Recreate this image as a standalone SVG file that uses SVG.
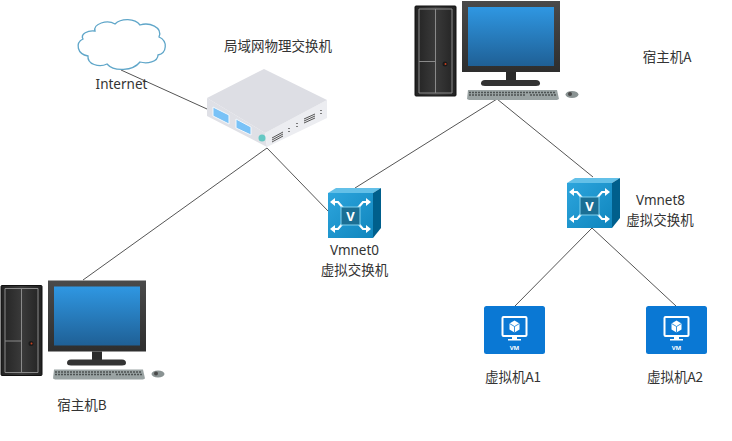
<svg xmlns="http://www.w3.org/2000/svg" width="732" height="441" viewBox="0 0 732 441">
<style>
text{font-family:"Noto Sans","Noto Sans CJK SC",sans-serif;font-size:13.500px;fill:#333;text-anchor:middle}
.cn{font-family:"Noto Sans CJK SC","Noto Sans",sans-serif}
.line{stroke:#555;stroke-width:1;fill:none}
.arr{fill:none;stroke:#fff;stroke-width:2.200}
.hd{fill:#fff}
.vmt{font-size:6px;fill:#fff;font-weight:700}
</style>
<defs>
<linearGradient id="scr" x1="0" y1="0" x2="0" y2="1"><stop offset="0" stop-color="#2f97e2"/><stop offset="1" stop-color="#1f6096"/></linearGradient>
<linearGradient id="mon" x1="0" y1="0" x2="0" y2="1"><stop offset="0" stop-color="#4a4a4a"/><stop offset="1" stop-color="#2e2e2e"/></linearGradient>
<linearGradient id="twr" x1="0" y1="0" x2="1" y2="0"><stop offset="0" stop-color="#222"/><stop offset="0.5" stop-color="#3a3a3a"/><stop offset="1" stop-color="#222"/></linearGradient>
<linearGradient id="sw" x1="0" y1="0" x2="1" y2="1"><stop offset="0" stop-color="#2da5dd"/><stop offset="1" stop-color="#0f85bd"/></linearGradient>
<g id="pc">
<rect x="415" y="6" width="41" height="90" rx="1" fill="url(#twr)" stroke="#111"/>
<path d="M419 9H452V93H419ZM435.500 9V93M419 61.500H435.500" fill="none" stroke="#8a8a8a" stroke-width="1"/>
<circle cx="445" cy="64" r="2.500" fill="#1a1a1a"/><circle cx="445.500" cy="64" r="1" fill="#c8401e"/>
<rect x="462" y="1" width="98" height="71" fill="url(#mon)"/>
<rect x="468" y="7" width="86" height="59" fill="url(#scr)"/>
<rect x="506" y="72" width="10" height="9" fill="#2b2b2b"/>
<path d="M485 80H536Q540 80 540 83.500Q540 86 536 86H485Q481 86 481 83.500Q481 80 485 80Z" fill="#333"/>
<path d="M468 90H557L559 99L557 100H469L467 99Z" fill="#9aa3a3"/>
<path d="M469 92.500H556M469 95H526M530 95H556" stroke="#4d5353" stroke-width="1.300" stroke-dasharray="2 1" fill="none"/>
<ellipse cx="572" cy="94.500" rx="6.500" ry="3.500" fill="#8a9393"/><ellipse cx="570" cy="94" rx="2" ry="2" fill="#4a4a4a"/>
</g>
<g id="vsw">
<path d="M0 5L8 0H53L45 5Z" fill="#63c0e8"/>
<path d="M45 5L53 0V40L45 50Z" fill="#005f8c"/>
<rect x="0" y="5" width="45" height="45" fill="url(#sw)"/>
<path class="arr" d="M16 21L10 14H6M29 21L35 14H39M16 34L10 41H6M29 34L35 41H39"/>
<path class="hd" d="M2 14L7 10V18ZM43 14L38 10V18ZM2 41L7 37V45ZM43 41L38 37V45Z"/>
<rect x="13" y="19" width="19" height="18" fill="#1b6f94" stroke="#7fd0ee" stroke-width="1"/>
<text x="22.500" y="33" style="font-size:13px;font-weight:700;fill:#fff">V</text>
</g>
<g id="vm">
<rect x="0" y="0" width="61" height="48" rx="2.500" fill="#0a78d4"/>
<rect x="18.500" y="11" width="24" height="19" rx="1" fill="none" stroke="#fff" stroke-width="2"/>
<path d="M30.500 14.500L35.500 17.500V23.500L30.500 26.500L25.500 23.500V17.500Z" fill="#fff"/>
<path d="M25.500 17.500L30.500 20.500L35.500 17.500M30.500 20.500V26.500" stroke="#0a78d4" stroke-width="0.800" fill="none"/>
<path d="M28 30H33V33H37V34.500H24V33H28Z" fill="#fff"/>
<text class="vmt" x="30.500" y="44">VM</text>
</g>
</defs>

<g id="connectors">
<path class="line" d="M121 70L207 109"/>
<path class="line" d="M83 280L267 148L329 212"/>
<path class="line" d="M355 188L497 99L593 177"/>
<path class="line" d="M515 306L592 228L676 306"/>
</g>

<g id="internet">
<path d="M95 31C93 24 107 19 115 24C121 18 135 18 140 25C149 22 163 27 159 37C168 41 167 53 158 55C158 62 147 64 140 62C133 71 114 72 107 64C99 68 87 64 88 56C77 54 75 43 83 39C80 34 88 30 95 31Z" fill="#fff" stroke="#5fa6c9" stroke-width="1.300"/>
<text x="121.500" y="89">Internet</text>
</g>

<g id="lan-switch">
<path d="M207 98L265 133L267 147L207 116Z" fill="#dfe0e6"/>
<path d="M265 133L327 100V118L267 147Z" fill="#ecedf1"/>
<path d="M264 69L327 100L265 133L207 98Z" fill="#dddee4"/>
<path d="M213 107L229 115V124L213 116Z" fill="#79c2f7" stroke="#f4f8fc"/>
<path d="M236 119L251 127V135L236 128Z" fill="#79c2f7" stroke="#f4f8fc"/>
<circle cx="262" cy="138" r="3.500" fill="#65c8c4"/>
<path d="M272 138L283 132M272 140L283 134M272 142L283 136M304 119L315 114M304 121L315 116M304 123L315 118" stroke="#555" stroke-width="1" fill="none"/>
<path d="M289 128v1M289 131v1M297 123v1M297 126v1M321 110v1M321 113v1" stroke="#555" stroke-width="1.500" fill="none"/>
<text class="cn" x="278" y="51">局域网物理交换机</text>
</g>

<g id="host-a">
<use href="#pc"/>
<text class="cn" x="667" y="62">宿主机A</text>
</g>

<g id="host-b">
<use href="#pc" transform="translate(-414 279.500)"/>
<text class="cn" x="82" y="410">宿主机B</text>
</g>

<g id="vmnet0">
<use href="#vsw" transform="translate(328 188)"/>
<text x="354.500" y="255">Vmnet0</text>
<text class="cn" x="354.500" y="275">虚拟交换机</text>
</g>

<g id="vmnet8">
<use href="#vsw" transform="translate(567 178)"/>
<text x="660.500" y="205">Vmnet8</text>
<text class="cn" x="660" y="225">虚拟交换机</text>
</g>

<g id="vm-a1">
<use href="#vm" transform="translate(484 306)"/>
<text class="cn" x="513" y="382">虚拟机A1</text>
</g>

<g id="vm-a2">
<use href="#vm" transform="translate(646 306)"/>
<text class="cn" x="675" y="382">虚拟机A2</text>
</g>
</svg>
